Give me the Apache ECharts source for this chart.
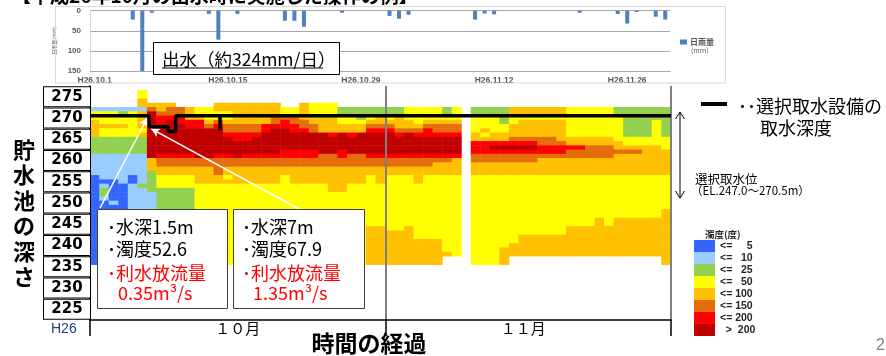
<!DOCTYPE html>
<html>
<head>
<meta charset="utf-8">
<script src="https://cdn.jsdelivr.net/npm/echarts@6/dist/echarts.min.js"></script>
<style>
html,body{margin:0;padding:0;background:#fff}
#main{width:886px;height:356px}
</style>
</head>
<body>
<div id="main"></div>
<script>
// 日雨量 (mm) H26.10.1 - H26.11.30
var rain = [0,0,0,0,22,324,5,0,0,0, 0,0,8,72,0,8,0,0,0,0, 25,25,40,0,0,0,5,0,0,0,
	0,13,20,10,0,0,0,0,0,0, 22,7,9,0,0,0,0,0,0,0, 0,5,0,0,0,8,32,3,0,15, 22];

// 濁度の区分 0:<=5 1:<=10 2:<=25 3:<=50 4:<=100 5:<=150 6:<=200 7:>200
var classColors = ['#3366ff','#99ccff','#92d050','#ffff00','#ffc000','#e46c0a','#ff0000','#c00000'];
var classLabels = ['<=     5','<=   10','<=   25','<=   50','<= 100','<= 150','<= 200','  >  200'];

// 各日の鉛直分布 EL.276 -> EL.236 (1m毎, '.'はデータなし)
var topElev = 276;
var turbidityCols = [
	'....1 33444 42222 11111 00000 00000 00000 00000 0', //10.1
	'....1 33343 32222 11111 10122 10000 00000 00000 0',
	'....1 33343 32222 11111 10000 01000 00000 00000 0',
	'....1 23343 32222 11111 11000 00000 00000 00000 0',
	'....1 33333 32222 11111 00111 11111 11111 11111 1',
	'33441 44443 42222 11111 11211 11111 11111 11111 1',
	'...45 77777 77777 74442 22221 11111 11111 11111 1',
	'...44 56677 77777 65544 33322 22222 22222 22222 2',
	'...45 56777 77777 65544 33322 22222 22222 22222 2',
	'....5 56677 77777 65544 33322 22222 22222 22222 2',
	'....4 44667 77777 65544 33322 22222 22222 22222 2', //10.11
	'....3 34667 77777 75544 44333 33333 33333 33333 3',
	'....3 33457 77777 75544 44333 33333 33333 33333 3',
	'...44 33567 77777 65555 44333 33333 33333 33333 3',
	'...44 33455 67777 65544 34333 33333 33333 33333 3',
	'...44 44455 66777 75544 44333 33333 33333 33333 3',
	'...44 44455 66777 65544 44333 33333 33333 33333 3',
	'...44 44455 67777 65544 44333 33333 33333 33333 3',
	'...44 44466 77777 65544 44333 33333 33333 33333 3',
	'...44 45567 77777 65544 44333 33333 33333 33333 3',
	'....3 35667 77776 65544 33333 33333 33333 33333 3', //10.21
	'....3 35566 77776 65544 44333 33333 33333 33333 3',
	'...44 44556 77776 65544 44333 33333 33333 33333 3',
	'...33 34455 77776 65544 44333 33333 33333 33333 3',
	'...33 34444 77777 55544 44333 33333 33333 33333 3',
	'...33 34444 67777 55544 44443 33333 33333 33333 3',
	'....2 23344 77776 65544 44443 33333 33333 33333 3',
	'....2 23344 67777 55544 44333 33333 33333 33333 3',
	'....2 22344 77777 55544 44333 33333 33333 33333 3',
	'....2 23456 77777 65544 33333 33333 33444 44444 4',
	'....2 24456 77777 65544 44333 33333 33444 44444 4', //10.31
	'....2 23456 77777 65544 33333 33333 33344 44444 4',
	'....2 24445 67777 65544 33333 33333 33344 44444 4',
	'....3 33445 77777 65544 33333 33333 33444 44444 4',
	'....3 33345 67777 65544 44333 33333 33333 44444 4',
	'....3 33456 67777 65544 33333 33333 33333 44444 4',
	'....3 33455 67777 65444 33333 33333 33333 44444 4',
	'....2 23455 67777 65444 33333 33333 33333 3334. .',
	'....3 33455 67777 64444 33333 33333 33333 3333. .',
	'..... ..... ..... ..... ..... ..... ..... ..... .',
	'....2 23333 44666 55444 33333 33333 33333 33333 3', //11.10
	'....2 23334 34666 55444 33333 33333 33333 33333 3',
	'....2 23333 44676 55444 33333 33333 33333 33333 3',
	'....2 22233 44676 55444 33333 33333 33333 33444 4',
	'....4 43344 45676 55444 33333 33333 33333 3444. .',
	'....4 43444 45676 55444 33333 33333 33334 4444. .',
	'....4 43444 45676 55444 33333 33333 33334 4444. .',
	'....4 43444 45566 54444 33333 33333 33334 4444. .',
	'....4 43444 45566 54444 33333 33333 33334 4444. .',
	'....4 43444 44566 54444 33333 33333 33334 4444. .',
	'....3 33333 34465 54444 33333 33333 33444 4444. .', //11.20
	'....3 33333 34465 54444 33333 33333 33444 4444. .',
	'....3 33333 34455 54444 33333 33333 33444 4444. .',
	'....3 33333 34455 54444 33333 33333 44444 4444. .',
	'....3 33333 34455 54444 33333 33333 33444 4444. .',
	'....2 23333 33445 44444 33333 33333 44444 4444. .',
	'....2 22222 23345 44444 33333 33333 44444 4444. .',
	'....2 22222 23345 44444 33333 33333 44444 4444. .',
	'....2 22222 23344 44444 33333 33333 44444 4444. .',
	'....2 22333 33344 44444 33333 33333 44444 4444. .',
	'....2 22222 23334 44444 33333 33344 44444 44444 4'  //11.30
];

// 選択取水設備の取水深度 (経過日, EL.m)
var intakeDay   = [0, 6.2, 6.2, 8.2, 8.2, 9.0, 9.0, 13.65, 13.65, 13.65, 61];
var intakeLevel = [270.5, 270.5, 267.9, 267.9, 266.8, 266.8, 270.5, 270.5, 267.1, 270.5, 270.5];

var monthLabels = ['１０月', '１１月'];
var monthStart = [0, 31];
var monthLabelAt = [15, 45];

var dayLabels = [];
[[10, 31], [11, 30]].forEach(function (m) {
	for (var d = 1; d <= m[1]; d++) dayLabels.push('H26.' + m[0] + '.' + d);
});
var elevations = [];
for (var e = 223; e <= 277; e++) elevations.push(String(e));

var heatData = [];
turbidityCols.forEach(function (col, d) {
	var s = col.replace(/ /g, '');
	for (var r = 0; r < s.length; r++) {
		var ch = s.charAt(r);
		if (ch !== '.') heatData.push([d, topElev - r - 223, +ch]);
	}
});

var jp = 'Noto Sans CJK JP';
function txt(t, x, y, size, opt) {
	opt = opt || {};
	return {
		type: 'text', x: x, y: y, z: 100, silent: true,
		style: {
			text: t, fontSize: size, fontFamily: opt.family || jp, fontWeight: opt.weight || 'normal',
			fill: opt.color || '#000', align: opt.align || 'left', verticalAlign: opt.va || 'middle',
			lineHeight: opt.lh
		}
	};
}

var chart = echarts.init(document.getElementById('main'));
var option = {
	animation: false,
	textStyle: { fontFamily: jp },
	grid: [
		{ left: 90, width: 580, top: 10.7, height: 60.3 },
		{ left: 90, width: 581, top: 86, height: 234 }
	],
	xAxis: [
		{
			gridIndex: 0, type: 'category', data: dayLabels, position: 'bottom',
			axisLine: { onZero: false, lineStyle: { color: '#a6a6a6' } },
			axisTick: { show: false },
			axisLabel: { interval: 13, fontSize: 8.5, fontWeight: 'bold', color: '#595959', margin: 5, fontFamily: 'Liberation Sans' }
		},
		{
			gridIndex: 1, type: 'category', data: dayLabels, z: 3,
			axisLine: { lineStyle: { color: '#000', width: 1.5 } },
			axisTick: { show: true, length: 16, interval: function (i) { return monthStart.indexOf(i) >= 0; }, lineStyle: { color: '#000', width: 1.5 } },
			splitLine: { show: true, interval: function (i) { return monthStart.indexOf(i) >= 0; }, lineStyle: { color: '#808080', width: 2 } },
			axisLabel: {
				interval: function (i) { return monthLabelAt.indexOf(i) >= 0; },
				formatter: function (v, i) { return monthLabels[monthLabelAt.indexOf(i)] || ''; },
				margin: 1, fontSize: 15, color: '#000'
			}
		},
		{ gridIndex: 1, type: 'value', min: 0, max: 61, show: false }
	],
	yAxis: [
		{
			gridIndex: 0, type: 'value', inverse: true, min: 0, max: 150, interval: 50,
			axisLine: { show: true, lineStyle: { color: '#d9d9d9' } },
			splitLine: { lineStyle: { color: '#a6a6a6' } },
			axisLabel: { fontSize: 8, fontWeight: 'bold', color: '#595959', margin: 9, fontFamily: 'Liberation Sans' },
			name: '日雨量(mm)', nameLocation: 'middle', nameGap: 24, nameRotate: 90,
			nameTextStyle: { fontSize: 5, color: '#595959' }
		},
		{
			gridIndex: 1, type: 'category', data: elevations, z: 4,
			axisLine: { lineStyle: { color: '#000', width: 1.5 } },
			axisTick: { show: false },
			axisLabel: {
				interval: function (i, v) { return +v % 5 === 0; },
				formatter: function (v) { return '{b|' + v + '}'; },
				align: 'right', margin: 0, hideOverlap: false,
				borderColor: '#000', borderWidth: 1, backgroundColor: '#fff', padding: 0,
				rich: { b: { width: 46, height: 19, align: 'center', verticalAlign: 'middle', fontSize: 15, fontWeight: 'bold', fontFamily: 'DejaVu Sans', color: '#000' } }
			}
		},
		{ gridIndex: 1, type: 'value', min: 222.5, max: 277.5, show: false }
	],
	visualMap: {
		type: 'piecewise', seriesIndex: 1, dimension: 2, orient: 'vertical', inverse: true, align: 'left',
		left: 694, top: 240, padding: 0, itemWidth: 21, itemHeight: 12, itemGap: 0, itemSymbol: 'rect',
		textGap: 5, selectedMode: false, hoverLink: false,
		textStyle: { fontSize: 10.5, fontWeight: 'bold', color: '#262626', fontFamily: 'Liberation Sans' },
		pieces: classColors.map(function (c, i) { return { value: i, color: c, label: classLabels[i] }; })
	},
	series: [
		{
			type: 'bar', xAxisIndex: 0, yAxisIndex: 0, data: rain, barWidth: 4,
			itemStyle: { color: '#4f81bd' }, silent: true
		},
		{
			type: 'heatmap', xAxisIndex: 1, yAxisIndex: 1, data: heatData, silent: true,
			itemStyle: { borderWidth: 0 }, progressive: 0
		},
		{
			type: 'line', xAxisIndex: 2, yAxisIndex: 2, z: 10, silent: true, symbol: 'none',
			data: intakeDay.map(function (d, i) { return [d, intakeLevel[i]]; }),
			lineStyle: { color: '#000', width: 3.5 },
			markLine: {
				silent: true, symbol: ['none', 'arrow'], symbolSize: [7, 9], animation: false,
				label: { show: false },
				lineStyle: { color: '#fff', width: 1.5, type: 'solid' },
				data: [
					[{ coord: [1.05, 248.8] }, { coord: [6.04, 270.1] }],
					[{ coord: [21.84, 248.7] }, { coord: [6.4, 267.5] }]
				]
			}
		}
	],
	graphic: { elements: [
		txt('【平成26年10月の出水時に実施した操作の例】', 12, 5, 19, { weight: 'bold', va: 'bottom' }),
		{ type: 'rect', z: 1, silent: true, shape: { x: 55.5, y: 6.5, width: 670, height: 76.5 }, style: { fill: 'none', stroke: '#d9d9d9', lineWidth: 1 } },
		{ type: 'rect', z: 100, silent: true, shape: { x: 153.5, y: 42.5, width: 186, height: 32 }, style: { fill: '#fff', stroke: '#000', lineWidth: 1 } },
		txt('出水（約324mm/日）', 162, 59, 17.5),
		{ type: 'line', z: 100, silent: true, shape: { x1: 162, y1: 68, x2: 323, y2: 68 }, style: { stroke: '#000', lineWidth: 1 } },
		{ type: 'rect', z: 100, silent: true, shape: { x: 680, y: 39.5, width: 7, height: 5 }, style: { fill: '#4f81bd' } },
		txt('日雨量', 690, 42, 8, { weight: 'bold', color: '#595959' }),
		txt('(mm)', 691, 50.5, 7, { color: '#595959' }),

		txt('貯\n水\n池\nの\n深\nさ', 24, 137, 22, { weight: 'bold', align: 'center', va: 'top', lh: 25.4 }),
		txt('H26', 51, 329, 14, { color: '#1f3f7f', family: 'Liberation Sans' }),
		txt('時間の経過', 369, 343, 23, { weight: 'bold', align: 'center' }),

		{ type: 'rect', z: 100, silent: true, shape: { x: 97.5, y: 209.5, width: 130, height: 99 }, style: { fill: '#fff', stroke: '#404040', lineWidth: 1 } },
		txt('･水深1.5m', 107, 226.7, 18),
		txt('･濁度52.6', 107, 249.3, 18),
		txt('･利水放流量', 107, 272.7, 18, { color: '#ff0000' }),
		txt('0.35m³/s', 118, 293.3, 18, { color: '#ff0000' }),

		{ type: 'rect', z: 100, silent: true, shape: { x: 233.5, y: 209.5, width: 131, height: 99 }, style: { fill: '#fff', stroke: '#404040', lineWidth: 1 } },
		txt('･水深7m', 242, 226.7, 18),
		txt('･濁度67.9', 242, 249.3, 18),
		txt('･利水放流量', 242, 272.7, 18, { color: '#ff0000' }),
		txt('1.35m³/s', 253, 293.3, 18, { color: '#ff0000' }),

		{ type: 'rect', z: 100, silent: true, shape: { x: 701, y: 102, width: 26, height: 4 }, style: { fill: '#000' } },
		txt('･･選択取水設備の', 738, 106, 18),
		txt('取水深度', 760, 128.5, 18),
		{ type: 'line', z: 100, silent: true, shape: { x1: 680, y1: 112, x2: 680, y2: 198 }, style: { stroke: '#000', lineWidth: 1 } },
		{ type: 'polyline', z: 100, silent: true, shape: { points: [[675.5, 119], [680, 112], [684.5, 119]] }, style: { fill: 'none', stroke: '#000', lineWidth: 1 } },
		{ type: 'polyline', z: 100, silent: true, shape: { points: [[675.5, 191], [680, 198], [684.5, 191]] }, style: { fill: 'none', stroke: '#000', lineWidth: 1 } },
		txt('選択取水位', 695, 179.5, 12.5),
		txt('（EL.247.0～270.5m）', 691, 190.5, 11.5),

		txt('濁度(度)', 705, 234.5, 9.5, { weight: 'bold', color: '#262626' }),
		txt('2', 876, 346, 16, { color: '#808080', family: 'Liberation Sans' })
	] }
};
chart.setOption(option);
</script>
</body>
</html>
